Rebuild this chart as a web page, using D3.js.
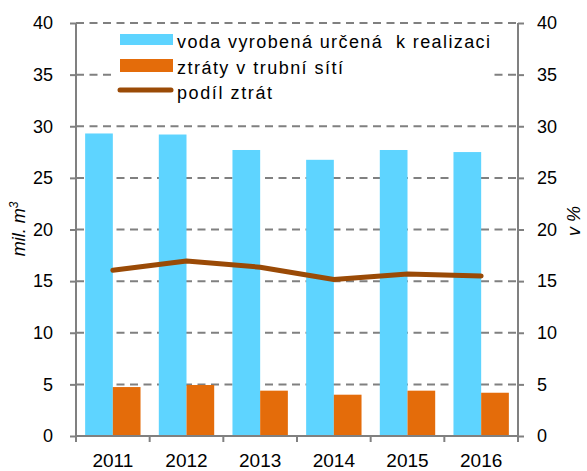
<!DOCTYPE html>
<html><head><meta charset="utf-8">
<script src="https://cdnjs.cloudflare.com/ajax/libs/d3/7.8.5/d3.min.js"></script>
<style>body{margin:0;background:#fff}svg{display:block;font-family:"Liberation Sans",Arial,sans-serif}</style>
</head><body>
<script>
const years = ["2011","2012","2013","2014","2015","2016"];
const vodaVyrobena = [29.3, 29.2, 27.7, 26.75, 27.7, 27.5];
const ztraty = [4.74, 4.94, 4.39, 4.0, 4.39, 4.19];
const podilZtrat = [16.05, 16.95, 16.35, 15.15, 15.7, 15.5];
const yTicks = [0,5,10,15,20,25,30,35,40];
const legendLabels = ["voda vyrobená určená  k realizaci","ztráty v trubní sítí","podíl ztrát"];

const W=587,H=471;
const svg=d3.select("body").append("svg").attr("width",W).attr("height",H);
const L=76,R=518,T=23,B=436;
const x=d3.scaleBand().domain(years).range([L,R]).paddingInner(0).paddingOuter(0);
const inner=d3.scaleBand().domain(["a","b"]).range([0,x.bandwidth()]).paddingOuter(0.33).paddingInner(0);
const yL=d3.scaleLinear().domain([0,40]).range([B,T]);
const yR=d3.scaleLinear().domain([0,40]).range([B,T]);
const grey="#808080";

// gridlines
svg.append("g").selectAll("line").data(yTicks.filter(d=>d>0)).join("line")
  .attr("x1",L).attr("x2",R).attr("y1",d=>yL(d)).attr("y2",d=>yL(d))
  .attr("stroke",grey).attr("stroke-width",2).attr("stroke-dasharray","8,5.5");

// bars
svg.append("g").selectAll("rect").data(years).join("rect")
  .attr("x",d=>x(d)+inner("a")).attr("width",inner.bandwidth())
  .attr("y",(d,i)=>yL(vodaVyrobena[i])).attr("height",(d,i)=>B-yL(vodaVyrobena[i]))
  .attr("fill","#5ED4FF");
svg.append("g").selectAll("rect").data(years).join("rect")
  .attr("x",d=>x(d)+inner("b")).attr("width",inner.bandwidth())
  .attr("y",(d,i)=>yL(ztraty[i])).attr("height",(d,i)=>B-yL(ztraty[i]))
  .attr("fill","#E46C0A");

// line
const line=d3.line().x((d,i)=>x(years[i])+x.bandwidth()/2).y(d=>yR(d));
svg.append("path").datum(podilZtrat).attr("d",line).attr("fill","none")
  .attr("stroke","#9A4A06").attr("stroke-width",5).attr("stroke-linejoin","round").attr("stroke-linecap","round");

// axes
const fs=18;
const ax=d3.axisLeft(yL).tickValues(yTicks).tickSize(6).tickPadding(17);
const gl=svg.append("g").attr("transform",`translate(${L},0)`).call(ax);
const ar=d3.axisRight(yR).tickValues(yTicks).tickSize(6).tickPadding(13);
const gr=svg.append("g").attr("transform",`translate(${R},0)`).call(ar);
const axb=d3.axisBottom(x).tickSize(0).tickPadding(18);
const gb=svg.append("g").attr("transform",`translate(0,${B})`).call(axb);
// boundary ticks
svg.append("g").selectAll("line").data(d3.range(years.length+1)).join("line")
  .attr("x1",i=>L+i*x.step()).attr("x2",i=>L+i*x.step()).attr("y1",B).attr("y2",B+6)
  .attr("stroke",grey).attr("stroke-width",2);
[gl,gr,gb].forEach(g=>{
  g.select(".domain").attr("stroke",grey).attr("stroke-width",2);
  g.selectAll(".tick line").attr("stroke",grey).attr("stroke-width",2);
  g.selectAll("text").attr("font-size",fs).attr("fill","#000").attr("font-family","Liberation Sans, Arial, sans-serif");
});
gb.selectAll("text").attr("font-size",19);
gl.select(".domain").attr("d",`M0,${B}V${T}`);
gr.select(".domain").attr("d",`M0,${B}V${T}`);
gb.select(".domain").attr("d",`M${L},0H${R}`);

// axis titles
svg.append("text").attr("transform","translate(25,229) rotate(-90)").attr("text-anchor","middle")
  .attr("font-size",18).attr("font-style","italic").text("mil. m").append("tspan").attr("font-size",12).attr("dy",-7).text("3");
svg.append("text").attr("transform","translate(580,221) rotate(-90)").attr("text-anchor","middle")
  .attr("font-size",18).attr("font-style","italic").text("v %");

// legend
const legendWidths=[313,166,95];
svg.append("rect").attr("x",112).attr("y",28).attr("width",380).attr("height",80).attr("fill","#fff");
const lg=svg.append("g");
lg.append("rect").attr("x",120).attr("y",34).attr("width",53).attr("height",11).attr("fill","#5ED4FF");
lg.append("rect").attr("x",120).attr("y",59).attr("width",53).attr("height",13).attr("fill","#E46C0A");
lg.append("line").attr("x1",120).attr("x2",171).attr("y1",90).attr("y2",90).attr("stroke","#9A4A06").attr("stroke-width",5).attr("stroke-linecap","round");
lg.selectAll("text").data(legendLabels).join("text")
  .attr("x",177).attr("y",(d,i)=>48+i*25.5).attr("font-size",18)
  .attr("textLength",(d,i)=>legendWidths[i]).attr("lengthAdjust","spacing")
  .style("white-space","pre").text(d=>d);
</script>
</body></html>
